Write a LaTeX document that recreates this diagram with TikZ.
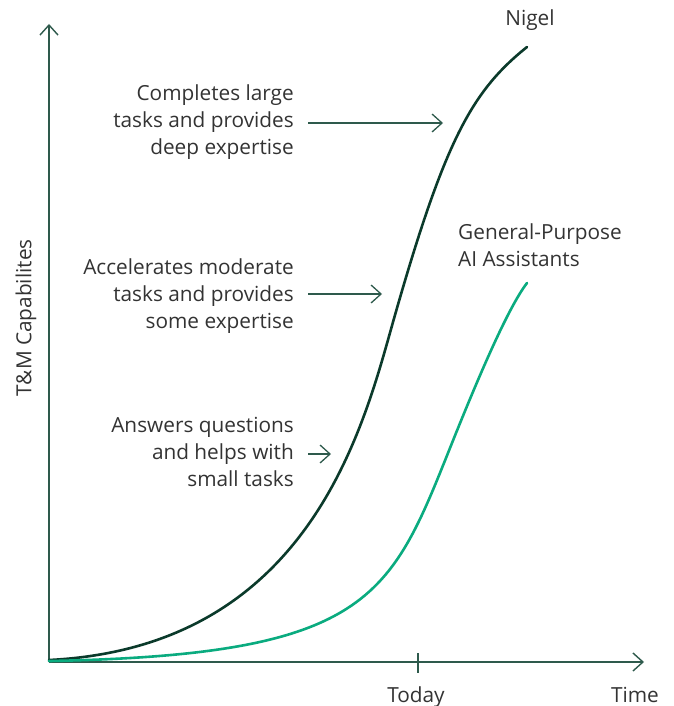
\documentclass[tikz,border=0pt]{standalone}
\usepackage{fontspec}
\setmainfont{Open Sans}
\usetikzlibrary{arrows.meta}
\definecolor{axiscol}{HTML}{2E5A4C}
\definecolor{nigelcol}{HTML}{0B3A2B}
\definecolor{gencol}{HTML}{0AAB7F}
\definecolor{txtcol}{HTML}{333333}
\tikzset{
  lbl/.style={font=\fontsize{20.8}{26.7}\selectfont, text=txtcol, inner sep=0pt},
  rlbl/.style={lbl, align=right, anchor=east},
  axisline/.style={draw=axiscol, line width=1.5pt, -{Straight Barb[length=10pt,width=18pt,line width=1.4pt]}},
  pointer/.style={draw=axiscol, line width=1.3pt, -{Straight Barb[length=10pt,width=18pt,line width=1.3pt]}},
  curve/.style={line width=2.6pt, line cap=round}
}
\begin{document}
\begin{tikzpicture}[x=1pt,y=-1pt]
\useasboundingbox (0,0) rectangle (673,706);
% axes
\coordinate (o) at (49,662);
\coordinate (ytop) at (49,24);
\coordinate (xend) at (644,662);
\draw[axisline] (o) -- (ytop);
\draw[axisline] (o) -- (xend);
\coordinate (tt) at (418,653);
\coordinate (tb) at (418,673);
\draw[axiscol, line width=1.5pt] (tt) -- (tb);
\node[lbl, anchor=base] (today) at (416,702) {Today};
\node[lbl, anchor=base] (time) at (635,702) {Time};
\node[lbl, rotate=90] (ylab) at (26,318) {T\&M Capabilites};
% curves
\coordinate (n0) at (49,660);
\coordinate (n1) at (395,315);
\coordinate (n2) at (527,47);
\draw[curve, nigelcol] (n0) .. controls (314,647) and (365,420) .. (n1)
  .. controls (445,140) and (472,91) .. (n2);
\coordinate (g0) at (49,661);
\coordinate (g1) at (450,448);
\coordinate (g2) at (527,283);
\draw[curve, gencol] (g0) .. controls (369,655) and (390,598) .. (g1)
  .. controls (475,385.5) and (507,309) .. (g2);
\node[lbl] (nigel) at (530,20) {Nigel};
\node[lbl, align=left, anchor=west] (gen) at (458,245) {General-Purpose\\AI Assistants};
% annotations
\node[rlbl] (t1) at (294,122) {Completes large\\tasks and provides\\deep expertise};
\node[rlbl] (t2) at (294,296) {Accelerates moderate\\tasks and provides\\some expertise};
\node[rlbl] (t3) at (294,452) {Answers questions\\and helps with\\small tasks};
\coordinate (a1s) at (308,123); \coordinate (a1e) at (443,123);
\coordinate (a2s) at (308,294); \coordinate (a2e) at (382,294);
\coordinate (a3s) at (308,454); \coordinate (a3e) at (331,454);
\draw[pointer] (a1s) -- (a1e);
\draw[pointer] (a2s) -- (a2e);
\draw[pointer] (a3s) -- (a3e);
\end{tikzpicture}
\end{document}
